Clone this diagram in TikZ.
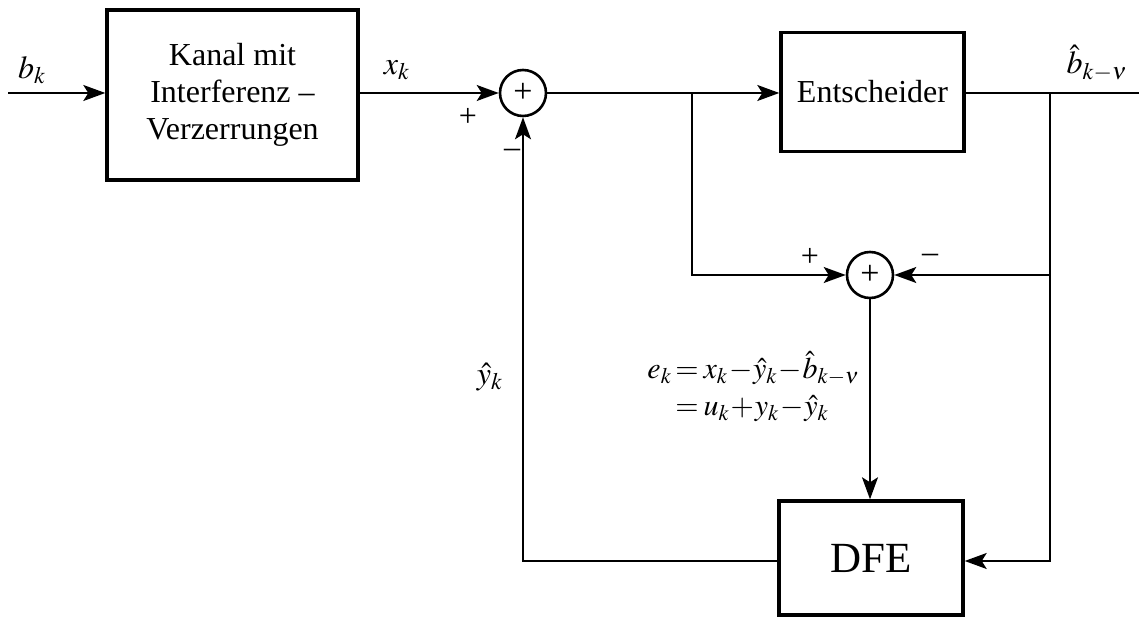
\documentclass[tikz,border=0pt]{standalone}
\usepackage{mathptmx}
\usepackage{fontspec}
\setmainfont{Liberation Serif}
\usetikzlibrary{arrows.meta}
\begin{document}
\begin{tikzpicture}[x=0.5pt,y=-0.5pt,
  font=\fontsize{16}{18.5}\selectfont,
  blk/.style={draw,line width=1.7pt,inner sep=0pt,align=center},
  sumnode/.style={draw,circle,line width=1.3pt,minimum size=23pt,inner sep=0pt,font=\fontsize{17}{19}\selectfont},
  conn/.style={line width=0.9pt},
  arr/.style={conn,-{Stealth[length=11pt,width=8pt,inset=2.5pt]}},
  lbl/.style={inner sep=0pt}]
\useasboundingbox (0,0) rectangle (1141,619);
% blocks
\node[blk,minimum width=125.5pt,minimum height=85pt] (kanal) at (232.5,95)
  {Kanal mit\\Interferenz --\\Verzerrungen};
\node[blk,minimum width=91.5pt,minimum height=59.5pt] (ent) at (872.5,92) {Entscheider};
\node[blk,minimum width=92pt,minimum height=57pt,font=\fontsize{21.5}{24}\selectfont] (dfe) at (871,558) {DFE};
\node[sumnode] (s1) at (523,93) {+};
\node[sumnode] (s2) at (870,275) {+};
% coordinates
\coordinate (in) at (8,93);
\coordinate (out) at (1139,93);
\coordinate (ba) at (692,93);
\coordinate (bb) at (1050,93);
\coordinate (bc) at (1050,275);
\coordinate (fb) at (523,561);
% connectors
\draw[arr] (in) -- (kanal.west |- in);
\draw[arr] (kanal.east |- s1) -- (s1.west);
\draw[arr] (s1.east) -- (ent.west |- s1);
\draw[conn] (ent.east |- out) -- (out);
\draw[arr] (ba) |- (s2.west);
\draw[conn] (bb) -- (bc);
\draw[arr] (bc) -- (s2.east);
\draw[arr] (bc) |- (dfe.east |- fb);
\draw[arr] (s2.south) -- (dfe.north -| s2);
\draw[arr] (dfe.west |- fb) -- (fb) -- (s1.south);
% labels
\node[lbl] (lbk) at (32,70) {$b_k$};
\node[lbl] (lxk) at (397,70) {$x_k$};
\node[lbl] (p1) at (468,117) {+};
\node[lbl] (m1) at (512,153) {--};
\node[lbl] (lbh) at (1097,63) {$\hat{b}_{k-\nu}$};
\node[lbl] (p2) at (810,257) {+};
\node[lbl] (m2) at (930,258) {--};
\node[lbl] (lyh) at (490,377) {$\hat{y}_k$};
\node[lbl,anchor=east,font=\fontsize{15}{18.5}\selectfont] (eq) at (860,389)
  {$\thickmuskip=3mu\medmuskip=0.5mu\begin{array}{@{}r@{\,}l@{}} e_k &= x_k - \hat{y}_k - \hat{b}_{k-\nu}\\ &= u_k + y_k - \hat{y}_k\end{array}$};
\end{tikzpicture}
\end{document}
